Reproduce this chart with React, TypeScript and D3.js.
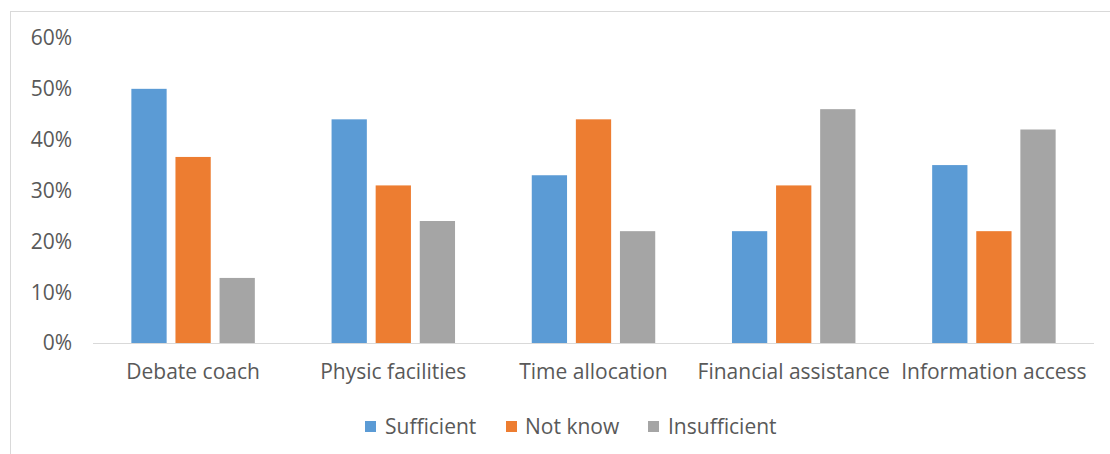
import React from 'react';
import * as d3 from 'd3';

const categories = ['Debate coach', 'Physic facilities', 'Time allocation', 'Financial assistance', 'Information access'];
const seriesNames = ['Sufficient', 'Not know', 'Insufficient'];
const sufficient = [0.50, 0.44, 0.33, 0.22, 0.35];
const notKnow = [0.366, 0.31, 0.44, 0.31, 0.22];
const insufficient = [0.128, 0.24, 0.22, 0.46, 0.42];
const yTicks = [0, 0.1, 0.2, 0.3, 0.4, 0.5, 0.6];
const colors = ['#5b9bd5', '#ed7d31', '#a5a5a5'];

const width = 1110;
const height = 454;
const font = '"Open Sans", "Noto Sans", sans-serif';
const textColor = '#595959';

const App = () => {
    const values = [sufficient, notKnow, insufficient];

    const x = d3.scaleBand<string>().domain(categories).range([93, 1094]);
    const xInner = d3.scaleBand<string>()
        .domain(seriesNames)
        .range([0, x.bandwidth()])
        .paddingInner(0.2)
        .paddingOuter(0.87);
    const y = d3.scaleLinear().domain([0, 0.6]).range([343, 38]);
    const fmt = d3.format('.0%');

    // legend layout: square + label per series
    const legendItems = [
        { name: seriesNames[0], sq: 365, tx: 385 },
        { name: seriesNames[1], sq: 506, tx: 525 },
        { name: seriesNames[2], sq: 648, tx: 668 },
    ];

    return (
        <div style={{ position: 'fixed', left: 0, top: 0, width, height, background: '#fff' }}>
            <svg width={width} height={height} style={{ display: 'block' }}>
                <rect x={10.5} y={11.5} width={width} height={height} fill="#fff" stroke="#d9d9d9" strokeWidth={1} />

                {yTicks.map(t => (
                    <text key={t} x={72} y={y(t)} dy="0.35em" textAnchor="end"
                        fontFamily={font} fontSize={21} fill={textColor}>{fmt(t)}</text>
                ))}

                {categories.map((c, ci) => (
                    <g key={c} transform={`translate(${x(c)},0)`}>
                        {seriesNames.map((s, si) => (
                            <rect key={s}
                                x={xInner(s)}
                                y={y(values[si][ci])}
                                width={xInner.bandwidth()}
                                height={y(0) - y(values[si][ci])}
                                fill={colors[si]} />
                        ))}
                        <text x={x.bandwidth() / 2} y={372} dy="0.35em" textAnchor="middle"
                            fontFamily={font} fontSize={21} fill={textColor}>{c}</text>
                    </g>
                ))}

                <line x1={93} x2={1094} y1={343.5} y2={343.5} stroke="#d9d9d9" strokeWidth={1} />

                {legendItems.map((l, i) => (
                    <g key={l.name}>
                        <rect x={l.sq} y={421} width={11} height={11} fill={colors[i]} />
                        <text x={l.tx} y={426.5} dy="0.35em" fontFamily={font} fontSize={21} fill={textColor}>{l.name}</text>
                    </g>
                ))}
            </svg>
        </div>
    );
};

export default App;
